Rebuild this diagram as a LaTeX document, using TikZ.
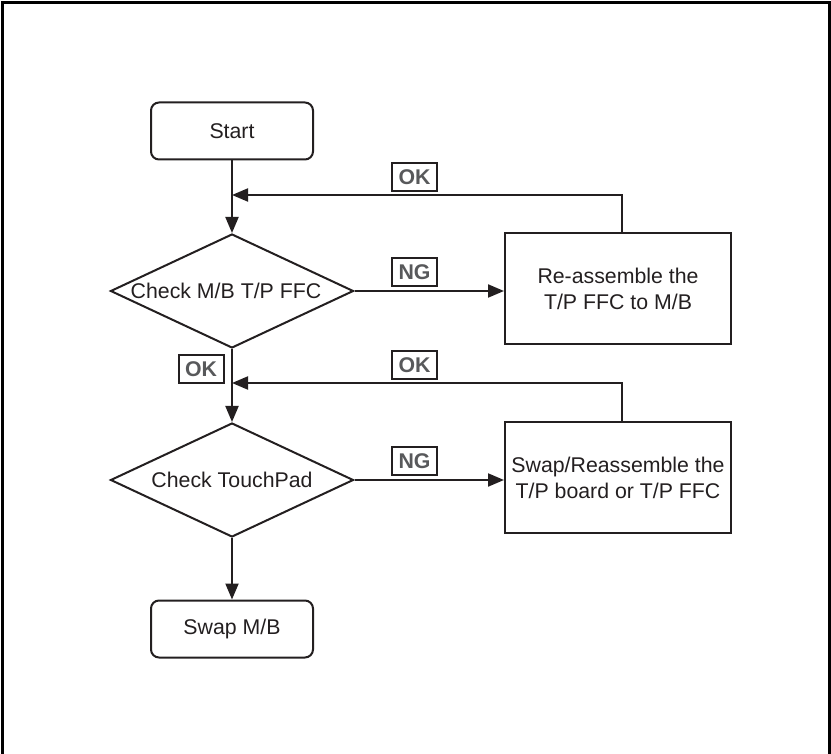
\documentclass[tikz,border=0pt]{standalone}
\usepackage{fontspec}
\setmainfont{Liberation Sans}
\usetikzlibrary{shapes.geometric,arrows.meta}
\definecolor{ink}{HTML}{231F20}
\definecolor{lblgrey}{HTML}{58595B}
\begin{document}
\begin{tikzpicture}[x=1pt,y=-1pt,
  every node/.style={font=\fontsize{21.3}{26}\selectfont, text=ink},
  term/.style={draw=ink, line width=2pt, rounded corners=8pt, minimum width=162pt, minimum height=57pt, inner sep=0pt},
  dia/.style={draw=ink, line width=2pt, diamond, minimum width=243pt, minimum height=114pt, inner sep=0pt},
  proc/.style={draw=ink, line width=2pt, minimum width=226pt, minimum height=111pt, inner sep=0pt, align=center},
  tag/.style={draw=ink, line width=2pt, minimum width=45pt, minimum height=28pt, inner sep=0pt, font=\fontsize{21.3}{26}\selectfont\bfseries, text=lblgrey},
  conn/.style={draw=ink, line width=2pt, -{Triangle[length=16pt,width=13pt]}}]
\useasboundingbox (0,0) rectangle (831,754);
\draw[line width=3pt, black] (2.5,754) -- (2.5,2.5) -- (829.5,2.5) -- (829.5,754);

\node[term] (start) at (232,131) {Start};
\node[dia] (d1) at (232,291) {};
\node (t1) at (226,291) {Check M/B T/P FFC};
\node[proc] (b1) at (618,289) {Re-assemble the\\T/P FFC to M/B};
\node[dia] (d2) at (232,480) {};
\node (t2) at (232,480) {Check TouchPad};
\node[proc] (b2) at (618,477.5) {Swap/Reassemble the\\T/P board or T/P FFC};
\node[term] (end) at (232,629) {Swap M/B};

\coordinate (j1) at (232,195);
\coordinate (j2) at (232,383);

\node[tag] (ok1) at (414.5,177) {OK};
\node[tag] (ng1) at (414.5,272.5) {NG};
\node[tag] (ok2) at (201,369.5) {OK};
\node[tag] (ok3) at (414.5,365) {OK};
\node[tag] (ng2) at (414.5,461) {NG};

\draw[conn] (start.south) -- (d1.north);
\draw[conn] ([xshift=4pt]b1.north) |- (j1);
\draw[conn] (d1.east) -- (d1.east -| b1.west);
\draw[conn] (d1.south) -- (d2.north);
\draw[conn] ([xshift=4pt]b2.north) |- (j2);
\draw[conn] (d2.east) -- (d2.east -| b2.west);
\draw[conn] (d2.south) -- (end.north);
\end{tikzpicture}
\end{document}
